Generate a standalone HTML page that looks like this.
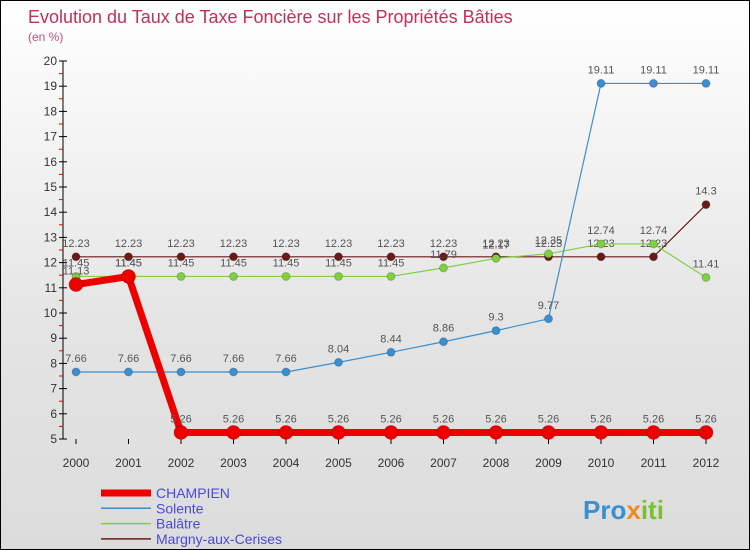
<!DOCTYPE html>
<html><head><meta charset="utf-8"><style>
body{margin:0;}
#c{width:748px;height:548px;border:1px solid #000;background:linear-gradient(#fff,#e4e4e4 60%,#dcdcdc);position:relative;font-family:"Liberation Sans",sans-serif;overflow:hidden}
svg text{font-family:"Liberation Sans",sans-serif}
</style></head><body>
<div id="c">
<svg id="s" width="748" height="548">
<text x="27" y="22" font-size="18" fill="#c0305a">Evolution du Taux de Taxe Foncière sur les Propriétés Bâties</text>
<text x="27" y="40" font-size="12" fill="#c0507a">(en %)</text>
<text x="582" y="518" font-size="26" font-weight="bold" fill="#3a8fd0">Pro<tspan fill="#f08a20">x</tspan><tspan fill="#7bc030">iti</tspan></text>
</svg>
</div>
<script>
const years=[2000,2001,2002,2003,2004,2005,2006,2007,2008,2009,2010,2011,2012];
const yTicks=[5,6,7,8,9,10,11,12,13,14,15,16,17,18,19,20];
const champien=[11.13,11.45,5.26,5.26,5.26,5.26,5.26,5.26,5.26,5.26,5.26,5.26,5.26];
const solente=[7.66,7.66,7.66,7.66,7.66,8.04,8.44,8.86,9.3,9.77,19.11,19.11,19.11];
const balatre=[11.45,11.45,11.45,11.45,11.45,11.45,11.45,11.79,12.17,12.35,12.74,12.74,11.41];
const margny=[12.23,12.23,12.23,12.23,12.23,12.23,12.23,12.23,12.23,12.23,12.23,12.23,14.3];
const names=["CHAMPIEN","Solente","Balâtre","Margny-aux-Cerises"];
const s=document.getElementById('s');const NS='http://www.w3.org/2000/svg';
const X=i=>75+i*52.5, Y=v=>438-(v-5)*25.2;
function el(t,a,p){const e=document.createElementNS(NS,t);for(const k in a)e.setAttribute(k,a[k]);(p||s).appendChild(e);return e;}
let ax=el('line',{x1:62,y1:Y(20),x2:62,y2:Y(5),stroke:'#000'});


yTicks.forEach(v=>{el('line',{x1:58,y1:Y(v),x2:66,y2:Y(v),stroke:'#000'});
if(v<20)el('line',{x1:58,y1:Y(v+0.5),x2:62,y2:Y(v+0.5),stroke:'#e00'});
const t=el('text',{x:56,y:Y(v)+4,'font-size':12,fill:'#333','text-anchor':'end'});t.textContent=v;

});
years.forEach((y,i)=>{el('line',{x1:X(i),y1:438,x2:X(i),y2:443,stroke:'#000'});
const t=el('text',{x:X(i),y:466,'font-size':12,fill:'#333','text-anchor':'middle'});t.textContent=y;

});
function series(d,col,w,r,name){const g=el('g',{});


el('polyline',{points:d.map((v,i)=>X(i)+','+Y(v)).join(' '),fill:'none',stroke:col,'stroke-width':w},g);
d.forEach((v,i)=>{const c=el('circle',{cx:X(i),cy:Y(v),r:r,fill:col,stroke:'rgba(0,0,0,0.2)'},g);


const t=el('text',{x:X(i),y:Y(v)-10,'font-size':11,fill:'#555','text-anchor':'middle'},g);t.textContent=v;

});}
series(margny,'#6b1a1a',1.2,4,'margny');
series(balatre,'#80d040',1.2,4,'balatre');
series(solente,'#3a8fd0',1.2,4,'solente');
series(champien,'#ee0000',7,7,'champien');
const cols=['#ee0000','#3a8fd0','#80d040','#6b1a1a'],ws=[7,1.5,1.5,1.5];
names.forEach((n,i)=>{const y=492+i*15.3;const g=el('g',{});


el('line',{x1:100,y1:y,x2:150,y2:y,stroke:cols[i],'stroke-width':ws[i]},g);
const t=el('text',{x:155,y:y+5,'font-size':14,fill:'#4a4ad8'},g);t.textContent=n;});
</script>
</body></html>
